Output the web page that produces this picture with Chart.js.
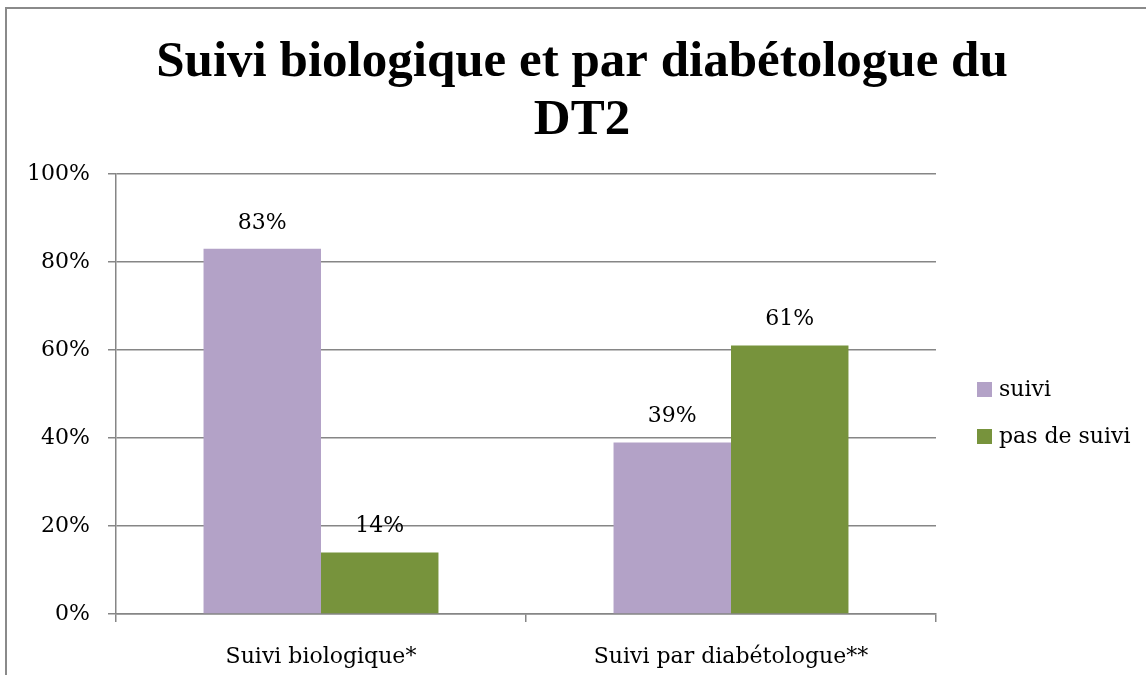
<!DOCTYPE html>
<html>
<head>
<meta charset="utf-8">
<script src="https://cdn.jsdelivr.net/npm/chart.js@4/dist/chart.umd.min.js"></script>
<style>
html,body{margin:0;padding:0;background:#fff;overflow:hidden;}
#wrap{position:absolute;left:0;top:0;width:1146px;height:675px;}
#frame{position:absolute;left:5px;top:7px;width:1200px;height:700px;border-left:2px solid #8a8a8a;border-top:2px solid #8a8a8a;}
canvas{position:absolute;left:0;top:0;}
</style>
</head>
<body>
<div id="wrap">
<div id="frame"></div>
<canvas id="c" width="1146" height="675"></canvas>
</div>
<script>
const titleLines = ["Suivi biologique et par diabétologue du", "DT2"];
const categories = ["Suivi biologique*", "Suivi par diabétologue**"];
const seriesNames = ["suivi", "pas de suivi"];
const suiviValues = [83, 39];
const pasDeSuiviValues = [14, 61];
const yTicks = [0, 20, 40, 60, 80, 100];

const COLORS = ["#B3A2C7", "#77933C"];
const GRID = "#868686";
const FONT = "'DejaVu Serif', serif";

const titlePlugin = {
  id: 'customTitle',
  afterDraw(chart) {
    const ctx = chart.ctx;
    ctx.save();
    ctx.fillStyle = '#000';
    ctx.font = "bold 51px 'Liberation Serif', serif";
    ctx.textAlign = 'center';
    ctx.textBaseline = 'alphabetic';
    ctx.fillText(titleLines[0], 582, 76);
    ctx.fillText(titleLines[1], 582, 134);
    ctx.restore();
  }
};

const labelPlugin = {
  id: 'valueLabels',
  afterDatasetsDraw(chart) {
    const ctx = chart.ctx;
    ctx.save();
    ctx.fillStyle = '#000';
    ctx.font = "22px " + FONT;
    ctx.textAlign = 'center';
    ctx.textBaseline = 'middle';
    chart.data.datasets.forEach((ds, i) => {
      chart.getDatasetMeta(i).data.forEach((bar, j) => {
        ctx.fillText(ds.data[j] + '%', bar.x, bar.y - 26);
      });
    });
    ctx.restore();
  }
};

const legendPlugin = {
  id: 'customLegend',
  afterDraw(chart) {
    const ctx = chart.ctx;
    ctx.save();
    ctx.font = "22px " + FONT;
    ctx.textBaseline = 'middle';
    ctx.textAlign = 'left';
    const ys = [390, 437];
    chart.data.datasets.forEach((ds, i) => {
      ctx.fillStyle = ds.backgroundColor;
      ctx.fillRect(977, ys[i] - 8, 15, 15);
      ctx.fillStyle = '#000';
      ctx.fillText(ds.label, 999, ys[i]);
    });
    ctx.restore();
  }
};

new Chart(document.getElementById('c'), {
  type: 'bar',
  data: {
    labels: categories,
    datasets: [
      { label: seriesNames[0], data: suiviValues, backgroundColor: COLORS[0], categoryPercentage: 0.573, barPercentage: 1.0 },
      { label: seriesNames[1], data: pasDeSuiviValues, backgroundColor: COLORS[1], categoryPercentage: 0.573, barPercentage: 1.0 }
    ]
  },
  options: {
    responsive: false,
    animation: false,
    layout: { padding: { left: 0, right: 210, top: 174, bottom: 0 } },
    plugins: {
      legend: { display: false },
      title: { display: false },
      tooltip: { enabled: false }
    },
    scales: {
      x: {
        offset: true,
        grid: { offset: true, drawOnChartArea: false, drawTicks: true, tickLength: 8, color: GRID, lineWidth: 1.5 },
        border: { display: true, color: GRID, width: 1.5 },
        ticks: { color: '#000', font: { family: FONT, size: 22 }, padding: 22 },
        afterFit(scale) { scale.height = 61; }
      },
      y: {
        min: 0, max: 100,
        afterBuildTicks(scale) { scale.ticks = yTicks.map(v => ({ value: v })); },
        grid: { color: GRID, lineWidth: 1.5, tickLength: 8 },
        border: { display: true, color: GRID, width: 1.5 },
        ticks: { color: '#000', font: { family: FONT, size: 22 }, padding: 18, callback: v => v + '%' },
        afterFit(scale) { scale.width = 116; }
      }
    }
  },
  plugins: [titlePlugin, labelPlugin, legendPlugin]
});
</script>
</body>
</html>
